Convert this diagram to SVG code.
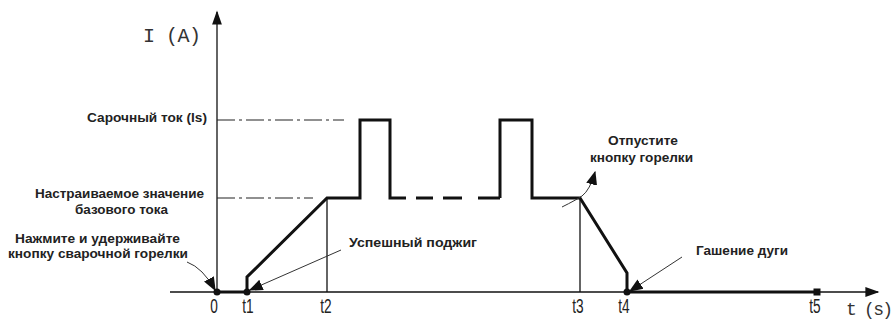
<svg xmlns="http://www.w3.org/2000/svg" width="896" height="321" viewBox="0 0 896 321">
<defs>
<style>
.lbl{font-family:"Liberation Sans",Arial,sans-serif;font-weight:bold;font-size:12.5px;fill:#222;}
.tick{font-family:"Liberation Sans",Arial,sans-serif;font-size:21px;fill:#222;}
.mono{font-family:"Liberation Mono","Courier New",monospace;font-size:20px;fill:#333;}
.thin{stroke:#111;stroke-width:1.3;fill:none;}
.thick{stroke:#111;stroke-width:3;fill:none;stroke-linejoin:miter;}
.dd{stroke:#222;stroke-width:1.2;fill:none;stroke-dasharray:18 4 3 4;}
.pt{stroke:#333;stroke-width:1;fill:none;}
</style>
<marker id="ah" viewBox="0 0 10 10" refX="9" refY="5" markerWidth="14" markerHeight="14" markerUnits="userSpaceOnUse" orient="auto">
<path d="M0,1 L10,5 L0,9 Z" fill="#111"/>
</marker>
<marker id="axh" viewBox="0 0 10 10" refX="9" refY="5" markerWidth="18" markerHeight="14" markerUnits="userSpaceOnUse" orient="auto">
<path d="M0,1.5 L10,5 L0,8.5 Z" fill="#111"/>
</marker>
</defs>
<rect width="896" height="321" fill="#fff"/>

<g id="axes">
<line class="thin" x1="217" y1="292" x2="217" y2="12" marker-end="url(#axh)"/>
<line class="thin" x1="170" y1="292" x2="878" y2="292" marker-end="url(#axh)"/>
<text class="mono" x="143" y="42" textLength="58">I (A)</text>
<text class="mono" x="846" y="315" textLength="47" style="font-size:18px">t (s)</text>
</g>

<g id="guides">
<line class="dd" x1="217" y1="120" x2="344" y2="120"/>
<line class="dd" x1="217" y1="198" x2="313" y2="198"/>
<line class="thin" x1="327" y1="198" x2="327" y2="292"/>
<line class="thin" x1="580" y1="198" x2="580" y2="292"/>
</g>

<g id="waveform">
<line class="thick" x1="217" y1="292" x2="247" y2="292"/>
<path class="thick" d="M247,292 L247,277 L327,198 L360,198 L360,120 L390,120 L390,198 L406,198"/>
<path class="thick" d="M416,198 L433,198 M443,198 L462,198 M478,198 L500,198"/>
<path class="thick" d="M500,198 L500,120 L532,120 L532,198 L580,198 L627,273 L627,292 L817,292"/>
<circle cx="217" cy="292" r="3.5" fill="#111"/>
<circle cx="247" cy="292" r="3.5" fill="#111"/>
<circle cx="627" cy="292" r="3.5" fill="#111"/>
<rect x="813.5" y="288.5" width="7" height="7" fill="#111"/>
</g>

<g id="ticks">
<text class="tick" transform="translate(214,313) scale(0.65,1)" text-anchor="middle">0</text>
<text class="tick" transform="translate(248,313) scale(0.65,1)" text-anchor="middle">t1</text>
<text class="tick" transform="translate(326,313) scale(0.65,1)" text-anchor="middle">t2</text>
<text class="tick" transform="translate(578,313) scale(0.65,1)" text-anchor="middle">t3</text>
<text class="tick" transform="translate(624,313) scale(0.65,1)" text-anchor="middle">t4</text>
<text class="tick" transform="translate(815,313) scale(0.65,1)" text-anchor="middle">t5</text>
</g>

<g id="label-weld">
<text class="lbl" x="87" y="122" textLength="120" lengthAdjust="spacingAndGlyphs">Сарочный ток (ls)</text>
</g>
<g id="label-base">
<text class="lbl" x="35" y="198" textLength="169" lengthAdjust="spacingAndGlyphs">Настраиваемое значение</text>
<text class="lbl" x="75" y="214" textLength="93" lengthAdjust="spacingAndGlyphs">базового тока</text>
</g>
<g id="label-press">
<text class="lbl" x="15" y="243" textLength="165" lengthAdjust="spacingAndGlyphs">Нажмите и удерживайте</text>
<text class="lbl" x="8" y="258" textLength="180" lengthAdjust="spacingAndGlyphs">кнопку сварочной горелки</text>
</g>
<g id="label-ignite">
<text class="lbl" x="349" y="247" textLength="128" lengthAdjust="spacingAndGlyphs">Успешный поджиг</text>
</g>
<g id="label-release">
<text class="lbl" x="608" y="145" textLength="70" lengthAdjust="spacingAndGlyphs">Отпустите</text>
<text class="lbl" x="590" y="162" textLength="103" lengthAdjust="spacingAndGlyphs">кнопку горелки</text>
</g>
<g id="label-extinct">
<text class="lbl" x="696" y="255" textLength="92" lengthAdjust="spacingAndGlyphs">Гашение дуги</text>
</g>

<g id="connectors">
<path class="pt" d="M187,262 Q203,268 215,290" marker-end="url(#ah)"/>
<path class="pt" d="M341,250 L250,290" marker-end="url(#ah)"/>
<path class="pt" d="M562,207 Q576,200 582,196 Q590,190 595,172" marker-end="url(#ah)"/>
<path class="pt" d="M682,257 L630,291" marker-end="url(#ah)"/>
</g>
</svg>
